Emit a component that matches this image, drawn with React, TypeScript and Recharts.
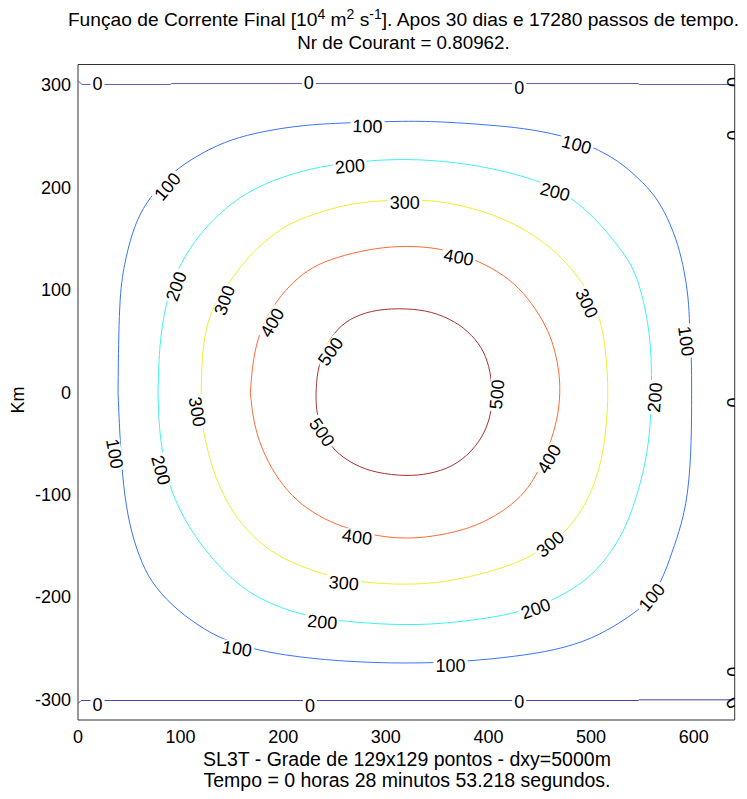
import React from 'react';
import { ScatterChart, Scatter, XAxis, YAxis } from 'recharts';

const FONT = '"Liberation Sans", Arial, Helvetica, sans-serif';

const xTicks = [0, 100, 200, 300, 400, 500, 600];
const yTicks = [-300, -200, -100, 0, 100, 200, 300];

const level0Top: [number, number][] = [
  [0, 304], [4, 300.5], [90, 300.5], [91, 301.4], [546, 301.4], [547, 300.5], [640, 300.5],
];
const level0Bottom: [number, number][] = [
  [0, -304], [3, -301], [546, -301], [547, -300.3], [640, -300.3],
];
const level100: [number, number][] = [
  [39, 0], [40, 92], [45, 125], [53, 157], [63, 180], [78, 200], [97, 219], [123, 235], [149, 247], [181, 255], [220, 261], [259, 263],
  [320, 265], [358, 264], [400, 261], [433, 258], [472, 251], [501, 240], [527, 226], [546, 209], [562, 193], [575, 170], [585, 144], [591, 118], [595, 92], [596, 66], [598, 33],
  [598, 0], [598, -48], [595, -97], [588, -130], [579, -156], [569, -185], [553, -208], [530, -224], [501, -241], [465, -252], [426, -258], [378, -263],
  [320, -265], [259, -263], [210, -258], [175, -252], [142, -242], [117, -228], [91, -208], [71, -185], [60, -162], [50, -130], [44, -91], [41, -48], [39, 0],
];
const level200: [number, number][] = [
  [78, 0], [79, 43], [84, 79], [92, 108], [100, 125], [113, 147], [130, 167], [152, 187], [181, 204], [220, 217], [253, 223], [282, 226],
  [320, 228], [368, 225], [417, 216], [456, 204], [481, 190], [504, 170], [523, 147], [540, 125], [549, 99], [556, 66], [559, 33],
  [559, 0], [558, -32], [554, -65], [546, -97], [535, -130], [520, -156], [501, -179], [478, -195], [452, -208], [417, -218], [368, -225],
  [320, -228], [259, -224], [220, -218], [191, -208], [165, -195], [142, -175], [123, -153], [107, -130], [94, -104], [86, -81], [79, -39], [78, 0],
];
const level300: [number, number][] = [
  [120, 0], [121, 40], [126, 69], [136, 92], [146, 105], [162, 128], [181, 147], [204, 164], [227, 173], [259, 183], [291, 187],
  [320, 188], [352, 187], [384, 180], [417, 169], [449, 151], [472, 131], [488, 112], [501, 92], [511, 66], [515, 33],
  [517, 0], [515, -32], [511, -65], [501, -97], [488, -120], [472, -140], [449, -156], [423, -169], [384, -180], [352, -186],
  [320, -188], [278, -186], [246, -180], [214, -169], [188, -156], [165, -136], [146, -110], [133, -81], [125, -52], [121, -32], [120, 0],
];
const level400: [number, number][] = [
  [168, 0], [170, 27], [175, 53], [185, 76], [198, 95], [214, 112], [233, 125], [259, 134], [291, 141],
  [320, 143], [352, 141], [384, 131], [410, 118], [430, 102], [446, 82], [459, 59], [465, 40], [469, 20],
  [470, 0], [468, -22], [462, -45], [452, -71], [439, -94], [423, -110], [400, -125], [375, -135], [345, -141],
  [320, -143], [295, -141], [269, -135], [246, -127], [223, -114], [204, -97], [188, -74], [176, -48], [170, -22], [168, 0],
];
const level500: [number, number][] = [
  [232, 0], [233, 20], [240, 43], [253, 63], [269, 74], [291, 81],
  [320, 82], [345, 79], [368, 69], [384, 56], [396, 40], [402, 20],
  [404, 0], [403, -19], [397, -39], [384, -58], [365, -73], [342, -80],
  [320, -82], [291, -79], [269, -71], [249, -57], [238, -39], [232, -19], [232, 0],
];

// [text, x, y, angle]
const contourLabels: [string, number, number, number][] = [
  ['0', 19, 301, 0], ['0', 225, 302, 0], ['0', 430, 297.5, 0],
  ['0', 19, -305, 0], ['0', 226, -305.5, 0], ['0', 430, -302, 0],
  ['100', 87, 201, -50], ['100', 282, 260, 2], ['100', 486, 242, 15], ['100', 593, 50, 82],
  ['100', 36, -60, 80], ['100', 155, -250, 8], ['100', 363, -267, 0], ['100', 559, -200, -50],
  ['200', 95.5, 103.5, -70], ['200', 265, 221, -5], ['200', 465, 196, 15], ['200', 562, -5, -85],
  ['200', 81, -76, 75], ['200', 238, -224, 5], ['200', 446, -211, -20],
  ['300', 142.5, 90, -70], ['300', 318.5, 185, 0], ['300', 496, 87, 65],
  ['300', 116.5, -19, 80], ['300', 259, -186, 5], ['300', 460, -148, -40],
  ['400', 189, 68, -60], ['400', 371, 132, 10], ['400', 459, -65, -60], ['400', 272, -141, 8],
  ['500', 246, 40, -55], ['500', 408, -2, -85], ['500', 238, -39, 55],
];
// "0" labels sitting on the right border (half clipped in the original)
const edgeLabels: [string, number, number, number][] = [
  ['0', 638.5, 303, 90], ['0', 638.5, 251, 90], ['0', 638.5, -10, 90], ['0', 638.5, -273, 90], ['0', 638.5, -303, 60],
];

const toPts = (a: [number, number][]) => a.map(([x, y]) => ({ x, y }));

const contours = [
  { name: '0a', color: '#5c5cb8', pts: toPts(level0Top), curve: 'linear' },
  { name: '0b', color: '#4040b0', pts: toPts(level0Bottom), curve: 'linear' },
  { name: '100', color: '#3a72ff', pts: toPts(level100), curve: 'basis' },
  { name: '200', color: '#3ff2f2', pts: toPts(level200), curve: 'basis' },
  { name: '300', color: '#eeee30', pts: toPts(level300), curve: 'basis' },
  { name: '400', color: '#ff6a35', pts: toPts(level400), curve: 'basis' },
  { name: '500', color: '#a83030', pts: toPts(level500), curve: 'basis' },
];

const labelData = contourLabels.map(([text, x, y, angle]) => ({ x, y, text, angle, bg: true }));
const edgeData = edgeLabels.map(([text, x, y, angle]) => ({ x, y, text, angle, bg: false }));

const FS = 18;

const LabelShape = (props: any) => {
  const { cx, cy, payload } = props;
  if (cx == null || cy == null || !payload) return <g />;
  const t = String(payload.text);
  const w = t.length * FS * 0.556 + 4;
  const h = FS * 0.78;
  return (
    <g transform={`translate(${cx},${cy}) rotate(${payload.angle})`}>
      {payload.bg && <rect x={-w / 2} y={-h / 2} width={w} height={h} fill="#fff" />}
      <text x={0} y={0} dy="0.36em" textAnchor="middle" fontSize={FS} fontFamily={FONT} fill="#000">
        {t}
      </text>
    </g>
  );
};

const NoShape = () => <g />;

const AX = '#333';
const supStyle = { fontSize: 14, lineHeight: 0 } as const;

export default function App() {
  return (
    <div style={{ position: 'relative', width: 739, height: 791, fontFamily: FONT }}>
      <style>{`body{overflow:hidden}`}</style>
      <div
        style={{
          position: 'absolute', left: 395.5, top: 0, transform: 'translateX(-50%)', width: 'max-content',
          textAlign: 'center', fontSize: 19.2, lineHeight: '23px', color: '#000', whiteSpace: 'nowrap',
        }}
      >
        <div>
          Funçao de Corrente Final [10<sup style={supStyle}>4</sup> m<sup style={supStyle}>2</sup> s<sup style={supStyle}>-1</sup>]. Apos 30 dias e 17280 passos de tempo.
        </div>
        <div style={{ fontSize: 18.8 }}>Nr de Courant = 0.80962.</div>
      </div>
      <div
        style={{
          position: 'absolute', left: 10, top: 392, transform: 'translate(-50%,-50%) rotate(-90deg)',
          fontSize: 18, color: '#000', whiteSpace: 'nowrap',
        }}
      >
        Km
      </div>
      <div
        style={{
          position: 'absolute', left: 399, top: 741, transform: 'translateX(-50%)', width: 'max-content',
          textAlign: 'center', fontSize: 19.5, lineHeight: '21px', color: '#000', whiteSpace: 'nowrap', zIndex: 2,
        }}
      >
        <div>SL3T - Grade de 129x129 pontos - dxy=5000m</div>
        <div>Tempo = 0 horas 28 minutos 53.218 segundos.</div>
      </div>
      <ScatterChart width={728} height={742} margin={{ top: 56.5, right: 1.3, bottom: 0, left: 0 }}>
        <XAxis
          xAxisId="b" type="number" dataKey="x" domain={[0, 640]} ticks={xTicks} allowDataOverflow interval={0}
          tickLine={false} tickSize={6} tickMargin={4} height={30} axisLine={{ stroke: AX }}
          tick={{ fontSize: FS, fill: '#000', fontFamily: FONT }}
        />
        <XAxis
          xAxisId="bm" type="number" dataKey="x" domain={[0, 640]} ticks={xTicks} allowDataOverflow interval={0}
          mirror tick={false} axisLine={false} tickSize={6} tickLine={{ stroke: AX }}
        />
        <XAxis
          xAxisId="t" orientation="top" type="number" dataKey="x" domain={[0, 640]} ticks={xTicks} allowDataOverflow interval={0}
          mirror tick={false} axisLine={{ stroke: AX }} tickSize={6} tickLine={{ stroke: AX }}
        />
        <YAxis
          yAxisId="l" type="number" dataKey="y" domain={[-320, 320]} ticks={yTicks} allowDataOverflow interval={0}
          width={70} tickLine={false} tickSize={6} tickMargin={1} axisLine={{ stroke: AX }}
          tick={{ fontSize: FS, fill: '#000', fontFamily: FONT }}
        />
        <YAxis
          yAxisId="lm" type="number" dataKey="y" domain={[-320, 320]} ticks={yTicks} allowDataOverflow interval={0}
          mirror tick={false} axisLine={false} tickSize={6} tickLine={{ stroke: AX }}
        />
        <YAxis
          yAxisId="r" orientation="right" type="number" dataKey="y" domain={[-320, 320]} ticks={yTicks} allowDataOverflow interval={0}
          mirror tick={false} axisLine={{ stroke: AX }} tickSize={6} tickLine={{ stroke: AX }}
        />
        {contours.map((c) => (
          <Scatter
            key={c.name}
            xAxisId="b"
            yAxisId="l"
            data={c.pts}
            fill={c.color}
            line={{ stroke: c.color, strokeWidth: 1 }}
            lineType="joint"
            lineJointType={c.curve as any}
            shape={NoShape}
            isAnimationActive={false}
          />
        ))}
        <Scatter xAxisId="b" yAxisId="l" data={labelData} shape={LabelShape} isAnimationActive={false} />
        <Scatter xAxisId="b" yAxisId="l" data={edgeData} shape={LabelShape} isAnimationActive={false} />
      </ScatterChart>
    </div>
  );
}
